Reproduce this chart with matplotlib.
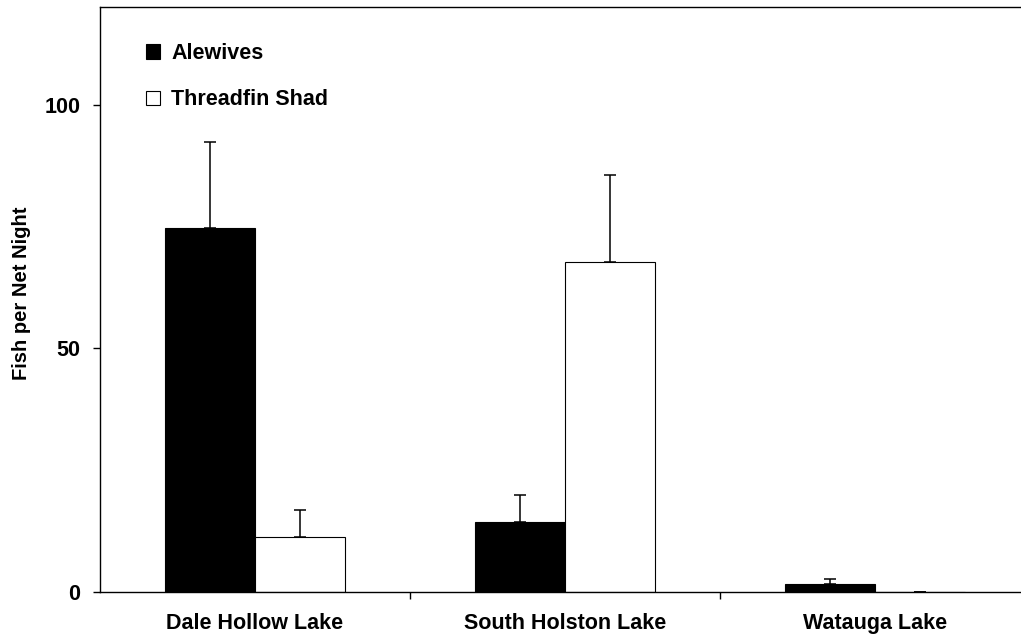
import numpy as np
import matplotlib.pyplot as plt
from matplotlib.patches import Patch

# data
lakes = ['Dale Hollow Lake', 'South Holston Lake', 'Watauga Lake']
alewives = [74.6, 14.5, 1.8]
alewives_err = [17.8, 5.4, 1.0]
shad = [11.4, 67.8, 0.1]
shad_err = [5.5, 17.8, 0.0]

plt.rcParams['font.family'] = ['Liberation Sans', 'DejaVu Sans']
plt.rcParams['font.weight'] = 'bold'

fig = plt.figure(figsize=(10.21, 6.39), dpi=100)
ax = fig.add_axes([100 / 1021, 46.7 / 639, 930 / 1021, 585.3 / 639])

x = np.arange(len(lakes))
w = 0.29
err_kw = dict(ecolor='black', elinewidth=1.1, capsize=4, capthick=1.1)

ax.bar(x - w / 2, alewives, w, color='black', edgecolor='black', linewidth=0.8,
       yerr=[np.zeros(3), alewives_err], error_kw=err_kw)
ax.bar(x + w / 2, shad, w, color='white', edgecolor='black', linewidth=0.8,
       yerr=[np.zeros(3), shad_err], error_kw=err_kw)

ax.set_xlim(-0.5, 2.5)
ax.set_ylim(0, 120)

# major ticks at category boundaries, labels on minor ticks at centres
ax.set_xticks([0.5, 1.5, 2.5])
ax.set_xticklabels([])
ax.set_xticks(x, minor=True)
ax.set_xticklabels(lakes, minor=True, fontsize=15.5, fontweight='bold')
ax.tick_params(axis='x', which='major', direction='out', length=5, width=1)
ax.tick_params(axis='x', which='minor', length=0, pad=15)

ax.set_yticks([0, 50, 100])
ax.set_yticklabels(['0', '50', '100'], fontsize=15.5, fontweight='bold')
ax.tick_params(axis='y', direction='out', length=5, width=1, pad=9)

ax.set_ylabel('Fish per Net Night', fontsize=14.5, fontweight='bold')
ax.yaxis.set_label_coords(-0.074, 0.51)

for s in ['left', 'bottom', 'top']:
    ax.spines[s].set_linewidth(1.0)
ax.spines['right'].set_visible(False)

handles = [Patch(facecolor='black', edgecolor='black', linewidth=0.8),
           Patch(facecolor='white', edgecolor='black', linewidth=0.8)]
ax.legend(handles, ['Alewives', 'Threadfin Shad'], loc='upper left',
          bbox_to_anchor=(0.049, 0.938), borderaxespad=0, borderpad=0,
          frameon=False, handlelength=0.68, handleheight=0.68,
          handletextpad=0.5, labelspacing=1.17,
          prop={'weight': 'bold', 'size': 15.5})

fig.savefig('out.png', dpi=100)
